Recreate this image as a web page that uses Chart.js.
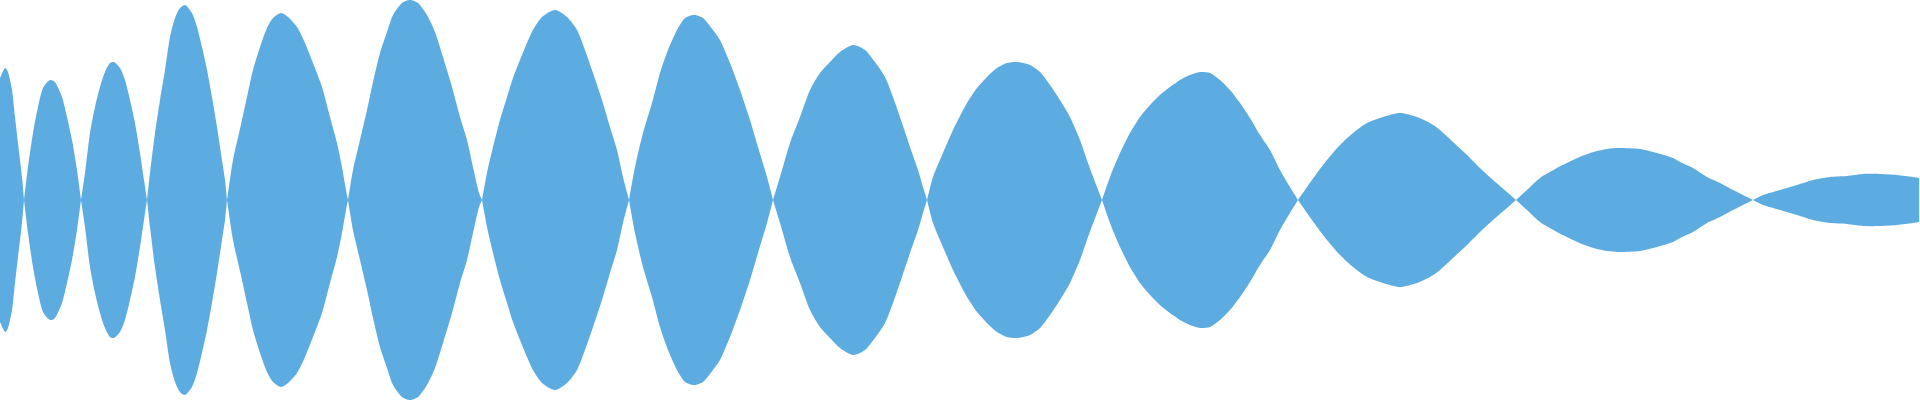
<!DOCTYPE html>
<html>
<head>
<meta charset="utf-8">
<script src="https://cdn.jsdelivr.net/npm/chart.js@4/dist/chart.umd.min.js"></script>
<style>
  html, body { margin: 0; padding: 0; background: #fff; }
  canvas { display: block; }
</style>
</head>
<body>
<canvas id="wave" width="1920" height="400"></canvas>
<script>
// envelope of the waveform: sample position and peak level (0..200)
// a level of 0 is a node between two lobes
const samplePos = [
  0, 5, 8, 12, 15, 18, 22, 24,
  28, 33, 38, 43, 50, 55, 62, 67, 72, 77, 81,
  85, 90, 95, 100, 105, 110, 114, 120, 125, 130, 135, 140, 144, 147,
  150, 155, 160, 165, 170, 175, 180, 185, 192, 197, 202, 207, 212, 217, 222, 225, 227,
  233, 240, 247, 253, 260, 267, 273, 281, 288, 297, 305, 313, 322, 330, 337, 342, 346, 348,
  353, 360, 367, 373, 380, 387, 393, 402, 410, 418, 427, 435, 443, 452, 460, 467, 473, 479, 482,
  487, 493, 500, 507, 513, 520, 527, 533, 542, 555, 567, 577, 585, 593, 602, 610, 617, 623, 629,
  635, 643, 652, 660, 668, 677, 685, 694, 703, 713, 720, 730, 740, 750, 758, 767, 773,
  780, 790, 800, 810, 820, 830, 840, 853, 865, 875, 885, 893, 902, 910, 918, 923, 927,
  933, 943, 953, 960, 967, 977, 987, 997, 1007, 1018, 1030, 1040, 1050, 1060, 1070, 1080, 1088, 1097, 1102,
  1110, 1120, 1130, 1140, 1150, 1160, 1170, 1180, 1190, 1200, 1210, 1220, 1230, 1240, 1250, 1260, 1270, 1280, 1290, 1298,
  1307, 1317, 1327, 1340, 1353, 1367, 1383, 1400, 1417, 1430, 1440, 1453, 1467, 1480, 1493, 1507, 1516,
  1527, 1540, 1557, 1573, 1590, 1607, 1620, 1640, 1657, 1673, 1680, 1693, 1707, 1720, 1733, 1747, 1753,
  1763, 1780, 1797, 1813, 1830, 1847, 1863, 1880, 1897, 1913, 1919
];
const peakLevel = [
  122, 132, 128, 110, 83, 57, 23, 0,
  33, 67, 93, 112, 120, 118, 103, 83, 60, 30, 0,
  27, 67, 93, 113, 128, 137, 138, 132, 120, 100, 77, 47, 20, 0,
  27, 67, 100, 130, 163, 182, 192, 195, 187, 173, 153, 130, 103, 73, 40, 20, 0,
  40, 71, 103, 130, 153, 172, 182, 187, 183, 173, 157, 137, 113, 83, 57, 33, 10, 0,
  30, 60, 90, 118, 147, 168, 185, 197, 200, 197, 185, 168, 143, 113, 83, 60, 33, 7, 0,
  27, 53, 80, 103, 122, 140, 157, 170, 183, 190, 183, 170, 150, 127, 100, 73, 50, 23, 0,
  33, 67, 97, 127, 150, 170, 182, 185, 182, 170, 160, 137, 110, 80, 53, 23, 0,
  23, 57, 83, 110, 127, 138, 148, 155, 150, 138, 123, 103, 77, 53, 30, 13, 0,
  23, 47, 70, 84, 97, 112, 123, 132, 137, 138, 135, 128, 115, 100, 83, 60, 37, 13, 0,
  23, 47, 67, 83, 95, 105, 113, 120, 125, 128, 127, 120, 110, 97, 82, 65, 50, 30, 13, 0,
  13, 27, 40, 55, 67, 77, 83, 87, 83, 77, 70, 58, 45, 32, 20, 8, 0,
  10, 22, 32, 40, 47, 51, 52, 51, 47, 42, 38, 32, 23, 17, 10, 3, 0,
  5, 10, 15, 20, 23, 24, 26, 26, 25, 23, 22
];

const waveColor = "rgb(93, 172, 225)";

// break the line at each node so the lobes meet in sharp points
function envelope(sign) {
  const pts = [];
  samplePos.forEach((x, i) => {
    const v = peakLevel[i];
    pts.push({ x: x, y: sign * v });
    if (v === 0 && i > 0 && i < samplePos.length - 1) {
      pts.push({ x: x, y: null });
      pts.push({ x: x, y: 0 });
    }
  });
  return pts;
}

const lobeStyle = {
  borderWidth: 0,
  borderColor: waveColor,
  backgroundColor: waveColor,
  pointRadius: 0,
  tension: 0.25,
  spanGaps: false,
  fill: "origin",
};

new Chart(document.getElementById("wave").getContext("2d"), {
  type: "line",
  data: {
    datasets: [
      Object.assign({ data: envelope(1) }, lobeStyle),
      Object.assign({ data: envelope(-1) }, lobeStyle),
    ],
  },
  options: {
    responsive: false,
    devicePixelRatio: 1,
    animation: false,
    layout: { padding: 0 },
    plugins: {
      legend: { display: false },
      tooltip: { enabled: false },
    },
    scales: {
      x: { type: "linear", min: 0, max: 1920, display: false },
      y: { min: -200, max: 200, display: false },
    },
  },
});
</script>
</body>
</html>
